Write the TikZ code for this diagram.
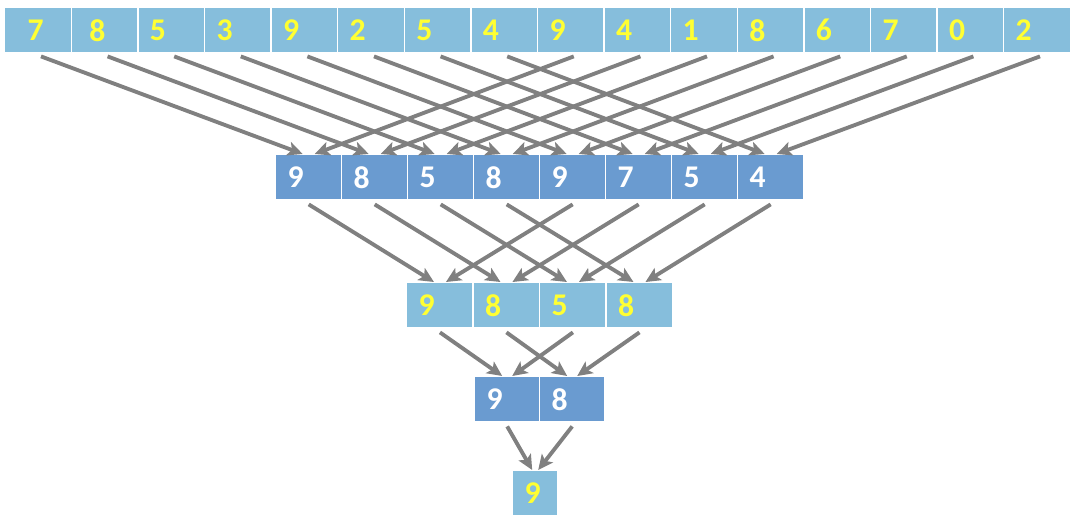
\documentclass[tikz,border=0pt]{standalone}
\usepackage{fontspec}
\setmainfont{Carlito}
\usetikzlibrary{arrows.meta,calc}
\definecolor{cellpale}{HTML}{86BEDC}
\definecolor{celldeep}{HTML}{6A9BD0}
\definecolor{digityellow}{HTML}{FFFF33}
\definecolor{arrowgray}{HTML}{808080}
\begin{document}
\begin{tikzpicture}[x=0.02cm,y=-0.02cm,
  cell/.style={draw=white,line width=0.8pt,anchor=north west,inner xsep=0.24cm,inner ysep=0pt,
    text width=#1,align=left,minimum height=0.9cm,font=\fontsize{18}{20}\selectfont\bfseries},
  cell/.default=0.84cm,
  pale/.style={cell=#1,fill=cellpale,text=digityellow},
  pale/.default=0.84cm,
  deep/.style={cell=#1,fill=celldeep,text=white},
  deep/.default=0.84cm,
  link/.style={arrowgray,line width=2.2pt,-{Stealth[length=0.3cm,width=0.28cm,inset=0.07cm]}}]
  \useasboundingbox (0,0) rectangle (1080,531);
  % rows of cells
  \foreach \v/\p [count=\i from 0] in {7/0.22cm,8/0.12cm,5/0pt,3/0pt,9/0pt,2/0pt,5/0pt,4/0pt,9/0pt,4/0pt,1/0pt,8/0pt,6/0pt,7/0pt,0/0pt,2/0pt}
    \node[pale=0.852cm] (t\i) at (4+66.6*\i,7) {\hspace*{\p}\v};
  \foreach \v [count=\i from 0] in {9,8,5,8,9,7,5,4}
    \node[deep] (m\i) at (275+66*\i,154) {\v};
  \foreach \v [count=\i from 0] in {9,8,5,8}
    \node[pale=0.85cm] (r\i) at (406+66.5*\i,282) {\v};
  \foreach \v [count=\i from 0] in {9,8}
    \node[deep=0.82cm] (s\i) at (474+65*\i,376) {\v};
  \node[pale=0.42cm] (w) at (512,470) {9};
  % comparisons
  \foreach \i in {0,...,7} {
    \pgfmathtruncatemacro\j{\i+8}
    \draw[link] ($(t\i.south)+(3,3)$) -- ($(m\i.north)+(-6,0)$);
    \draw[link] ($(t\j.south)+(3,3)$) -- ($(m\i.north)+(6,0)$);
  }
  \foreach \i in {0,...,3} {
    \pgfmathtruncatemacro\j{\i+4}
    \draw[link] ($(m\i.south)+(0,4)$) -- ($(r\i.north)+(-6,0)$);
    \draw[link] ($(m\j.south)+(0,4)$) -- ($(r\i.north)+(6,0)$);
  }
  \foreach \i in {0,1} {
    \pgfmathtruncatemacro\j{\i+2}
    \draw[link] ($(r\i.south)+(0,4)$) -- ($(s\i.north)+(-5,0)$);
    \draw[link] ($(r\j.south)+(0,4)$) -- ($(s\i.north)+(5,0)$);
  }
  \draw[link] ($(s0.south)+(0,4)$) -- ($(w.north)+(-3,0)$);
  \draw[link] ($(s1.south)+(0,4)$) -- ($(w.north)+(3,0)$);
\end{tikzpicture}
\end{document}
